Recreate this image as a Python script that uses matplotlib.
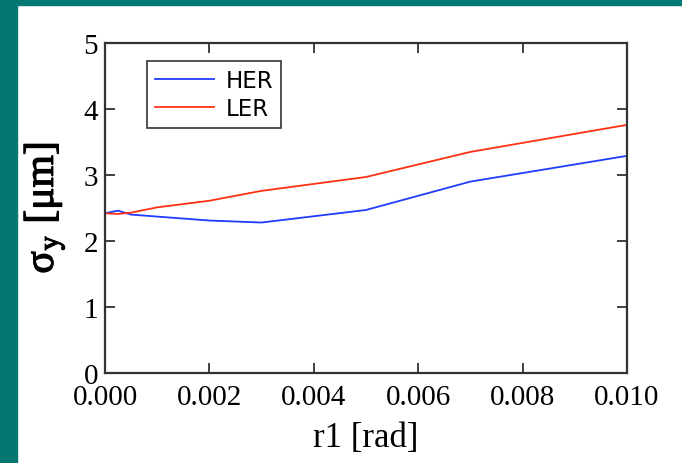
import matplotlib
matplotlib.use("Agg")
import matplotlib.pyplot as plt
import matplotlib.patheffects as pe
from matplotlib.patches import Rectangle

r1 = [0.0, 0.00025, 0.0005, 0.001, 0.002, 0.003, 0.005, 0.007, 0.010]
her = [2.42, 2.46, 2.40, 2.37, 2.31, 2.28, 2.47, 2.90, 3.29]
ler = [2.42, 2.41, 2.43, 2.51, 2.61, 2.76, 2.97, 3.35, 3.76]
xticks = [0.0, 0.002, 0.004, 0.006, 0.008, 0.010]
yticks = [0, 1, 2, 3, 4, 5]

plt.rcParams['mathtext.fontset'] = 'stix'
serif = ['Liberation Serif', 'DejaVu Serif']

fig = plt.figure(figsize=(6.82, 4.64), dpi=100)
fig.patch.set_facecolor('white')
teal = '#037873'
fig.patches.append(Rectangle((0, 0), 17/682, 1, transform=fig.transFigure, color=teal, zorder=0))
fig.patches.append(Rectangle((0, 1 - 6/464), 1, 6/464, transform=fig.transFigure, color=teal, zorder=0))

ax = fig.add_axes([105/682, 90/464, 522/682, 330/464])
ax.plot(r1, her, color='#1f3cff', lw=1.3, label='HER')
ax.plot(r1, ler, color='#ff3014', lw=1.3, label='LER')
ax.set_xlim(0, 0.010)
ax.set_ylim(0, 5)
ax.set_xticks(xticks)
ax.set_yticks(yticks)
ax.set_xticklabels(['%.3f' % v for v in xticks], family=serif, fontsize=21)
ax.set_yticklabels([str(v) for v in yticks], family=serif, fontsize=21)
ax.tick_params(direction='in', length=7, width=1.3, color='#333333', top=True, right=True)
ax.tick_params(axis='x', pad=8)
ax.tick_params(axis='y', pad=5)
for s in ax.spines.values():
    s.set_color('#333333')
    s.set_linewidth(1.6)
ax.set_xlabel('r1 [rad]', family=serif, fontsize=25, labelpad=8)
yl = ax.set_ylabel('σ$_\\mathrm{y}$ [μm]', family=serif, fontsize=30, labelpad=12)
yl.set_path_effects([pe.withStroke(linewidth=0.9, foreground='black')])
leg = ax.legend(loc='upper left', bbox_to_anchor=(0.08, 0.945), borderaxespad=0, fontsize=16.5,
                frameon=True, fancybox=False, edgecolor='black', handlelength=2.6, borderpad=0.35,
                labelspacing=0.2, handletextpad=0.5)
leg.get_frame().set_linewidth(1.2)
fig.savefig('out.png', dpi=100, facecolor=fig.get_facecolor())
